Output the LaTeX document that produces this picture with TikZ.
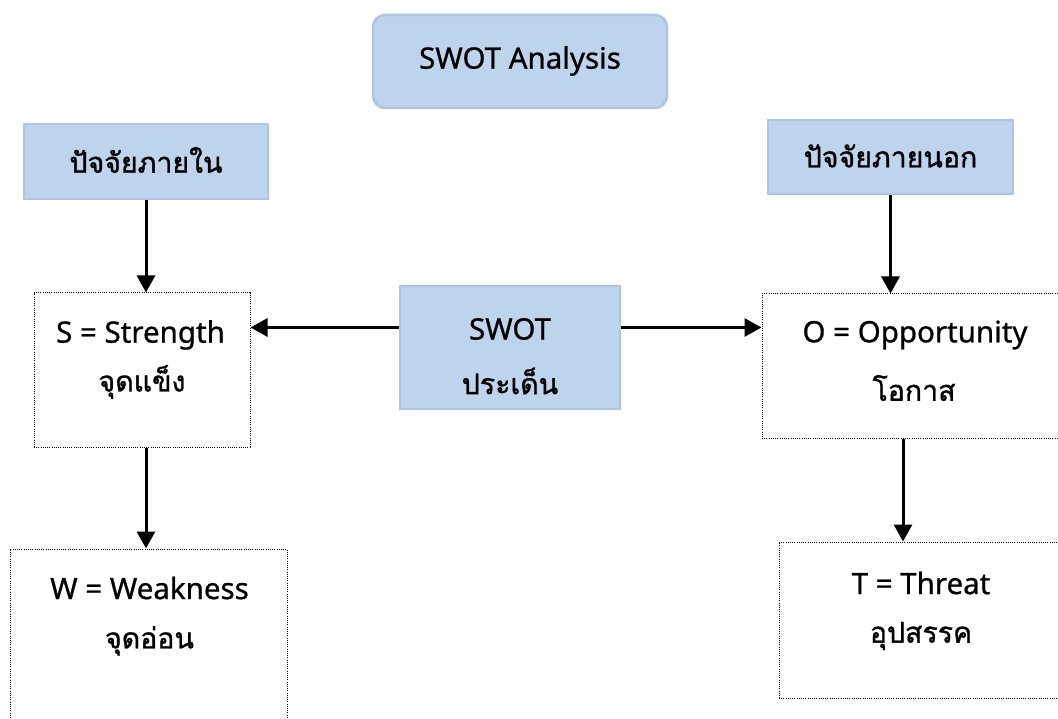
\documentclass[tikz,border=0pt]{standalone}
\usepackage{fontspec}
\setmainfont[Script=Thai,FakeBold=1.2]{Loma}
\newfontfamily\latfont[FakeBold=0.8]{Noto Sans}
\usetikzlibrary{arrows.meta,calc}
\definecolor{boxfill}{HTML}{BDD4EC}
\definecolor{boxline}{HTML}{B0C4E6}
\tikzset{
  bluebox/.style={draw=boxline, line width=2.5pt, fill=boxfill, inner sep=0pt},
  dotbox/.style={draw=black, line width=1pt, dash pattern=on 1pt off 1.2pt, inner sep=0pt},
  txt/.style={font=\fontsize{28.5}{30}\selectfont, inner sep=0pt, anchor=center},
  lat/.style={font=\fontsize{29.5}{30}\latfont, inner sep=0pt, anchor=center},
  arr/.style={line width=3pt, -{Triangle[length=17pt 0 0,width=18pt 0 0]}},
}
\begin{document}
\begin{tikzpicture}[x=1pt,y=-1pt]
\useasboundingbox (0,0) rectangle (1058,719);
\begin{scope}
\clip (0,0) rectangle (1058,719);
% blue boxes
\node[bluebox, rounded corners=12pt, minimum width=294pt, minimum height=93pt] (top) at (520,61.5) {};
\node[lat] (toptxt) at (520,61) {SWOT Analysis};
\node[bluebox, minimum width=244pt, minimum height=75pt] (inL) at (146,161.5) {};
\node[txt] (inLtxt) at (146,160) {ปัจจัยภายใน};
\node[bluebox, minimum width=245pt, minimum height=74pt] (inR) at (890.5,157) {};
\node[txt] (inRtxt) at (890.5,156) {ปัจจัยภายนอก};
\node[bluebox, minimum width=220pt, minimum height=123pt] (C) at (510,347.5) {};
\node[lat] (Ct1) at (510,329) {SWOT};
\node[txt] (Ct2) at (510,381) {ประเด็น};
% dotted boxes
\node[dotbox, minimum width=216pt, minimum height=154pt] (S) at (142,370) {};
\node[lat] (St1) at (140.5,335) {S = Strength};
\node[txt] (St2) at (142,382) {จุดแข็ง};
\node[dotbox, minimum width=277pt, minimum height=191pt] (W) at (148.5,644.5) {};
\node[lat] (Wt1) at (149.5,588) {W = Weakness};
\node[txt] (Wt2) at (149.5,641) {จุดอ่อน};
\node[dotbox, minimum width=308pt, minimum height=144pt] (O) at (916,366) {};
\node[lat] (Ot1) at (915,335) {O = Opportunity};
\node[txt] (Ot2) at (914,388) {โอกาส};
\node[dotbox, minimum width=291pt, minimum height=156pt] (T) at (924.5,620) {};
\node[lat] (Tt1) at (921,583) {T = Threat};
\node[txt] (Tt2) at (921,636) {อุปสรรค};
% connectors
\coordinate (Sin) at (inL.south |- S.north);
\draw[arr] (inL.south) -- (Sin);
\coordinate (Sout) at (inL.south |- S.south);
\coordinate (Win) at (inL.south |- W.north);
\draw[arr] (Sout) -- (Win);
\coordinate (Cl) at ([yshift=20pt]C.west);
\coordinate (Cr) at ([yshift=20pt]C.east);
\draw[arr] (Cl) -- (Cl -| S.east);
\draw[arr] (Cr) -- (Cr -| O.west);
\coordinate (Oin) at (inR.south |- O.north);
\draw[arr] (inR.south) -- (Oin);
\coordinate (Tin) at ([xshift=-21.5pt]T.north);
\draw[arr] (Tin |- O.south) -- (Tin);
\end{scope}
\end{tikzpicture}
\end{document}
